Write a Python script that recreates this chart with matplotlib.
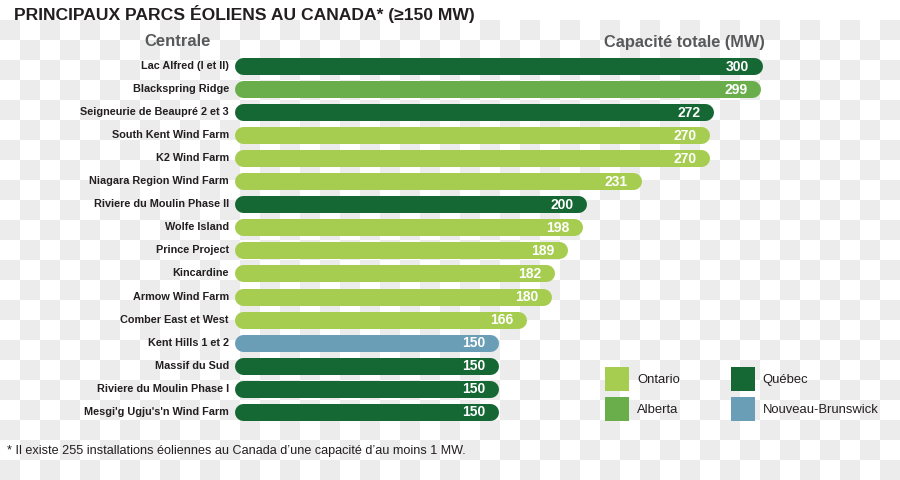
import numpy as np
import matplotlib
matplotlib.use("Agg")
import matplotlib.pyplot as plt
from matplotlib.patches import Patch

plt.rcParams["font.family"] = ["Liberation Sans Narrow", "Liberation Sans", "DejaVu Sans"]

# --- data ---
centrales = [
    "Lac Alfred (I et II)", "Blackspring Ridge", "Seigneurie de Beaupré 2 et 3",
    "South Kent Wind Farm", "K2 Wind Farm", "Niagara Region Wind Farm",
    "Riviere du Moulin Phase II", "Wolfe Island", "Prince Project", "Kincardine",
    "Armow Wind Farm", "Comber East et West", "Kent Hills 1 et 2",
    "Massif du Sud", "Riviere du Moulin Phase I", "Mesgi'g Ugju's'n Wind Farm",
]
capacite = [300, 299, 272, 270, 270, 231, 200, 198, 189, 182, 180, 166, 150, 150, 150, 150]
province = [
    "Québec", "Alberta", "Québec", "Ontario", "Ontario", "Ontario",
    "Québec", "Ontario", "Ontario", "Ontario", "Ontario", "Ontario",
    "Nouveau-Brunswick", "Québec", "Québec", "Québec",
]
legend_order = ["Ontario", "Alberta", "Québec", "Nouveau-Brunswick"]
colors = {
    "Ontario": "#a6cd4f",
    "Alberta": "#6aae4b",
    "Québec": "#156834",
    "Nouveau-Brunswick": "#6a9db6",
}

title = "PRINCIPAUX PARCS ÉOLIENS AU CANADA* (≥150 MW)"
footnote = "* Il existe 255 installations éoliennes au Canada d\u2019une capacité d\u2019au moins 1 MW."

W, H = 900, 480
fig = plt.figure(figsize=(W / 100, H / 100), dpi=100)

# checkerboard background
bg = fig.add_axes([0, 0, 1, 1], zorder=0)
rows, cols = H // 20, W // 20
r, c = np.mgrid[0:rows, 0:cols]
board = np.where((r - 1 + c) % 2 == 0, 0.922, 1.0)
board[0, :] = 1.0
bg.imshow(board, cmap="gray", vmin=0, vmax=1, extent=[0, W, H, 0], aspect="auto",
          interpolation="nearest")
bg.axis("off")

# main bar axes
x0_px = 234.5
px_per_mw = 1.76
top_px, step_px = 66, 23.05
n = len(centrales)
ax_top = top_px - step_px / 2
ax_bot = top_px + step_px * (n - 0.5)
ax = fig.add_axes([x0_px / W, 1 - ax_bot / H, (W - x0_px) / W, (ax_bot - ax_top) / H], zorder=1)
ax.set_xlim(0, (W - x0_px) / px_per_mw)
ax.set_ylim(n - 0.5, -0.5)
ax.axis("off")
ax.patch.set_alpha(0)

bar_h_px = 17
half = bar_h_px / 2 / px_per_mw
for i, (name, v, p) in enumerate(zip(centrales, capacite, province)):
    ax.plot([half, v - half], [i, i], color=colors[p], lw=bar_h_px * 0.72,
            solid_capstyle="round")
    ax.annotate(str(v), (v, i), xytext=(-9.5, -0.5), textcoords="offset points",
                ha="right", va="center", color="white", fontsize=10, fontweight="bold")
    ax.annotate(name, (0, i), xytext=(-4, 0), textcoords="offset points",
                ha="right", va="center", color="#231f20", fontsize=7.8, fontweight="bold")

fig.text(14 / W, 1 - 14 / H, title, ha="left", va="center", fontsize=12.6,
         fontweight="bold", color="#231f20")
fig.text(178 / W, 1 - 41 / H, "Centrale", ha="center", va="center", fontsize=12,
         fontweight="bold", color="#58595b")
fig.text(765 / W, 1 - 42 / H, "Capacité totale (MW)", ha="right", va="center",
         fontsize=11.8, fontweight="bold", color="#58595b")
fig.text(7 / W, 1 - 451 / H, footnote, ha="left", va="center", fontsize=9.1,
         color="#231f20")

handles = [Patch(facecolor=colors[k], edgecolor="none", label=k) for k in legend_order]
fig.legend(handles=handles, ncol=2, loc="upper left", bbox_to_anchor=(605 / W, 1 - 367 / H),
           frameon=False, borderpad=0, borderaxespad=0, handlelength=1.85, handleheight=2.45,
           handletextpad=0.6, labelspacing=0.45, columnspacing=3.9, fontsize=9.4,
           labelcolor="#231f20")

fig.savefig("out.png", dpi=100)
